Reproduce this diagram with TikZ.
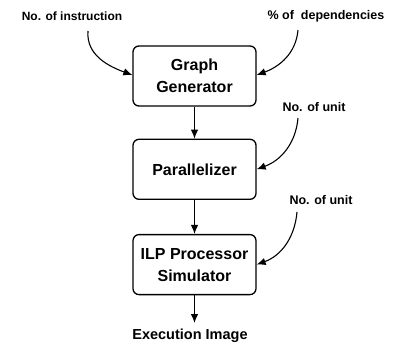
\documentclass[tikz,border=0pt]{standalone}
\usepackage{fontspec}
\setmainfont{Liberation Sans}
\usepackage{tikz}
\usetikzlibrary{positioning,shapes,arrows.meta}

\begin{document}
\begin{tikzpicture}[x=1pt,y=1pt,font=\bfseries]
        \useasboundingbox (0,0) rectangle (393,-345);
        \tikzset{blk/.style={draw,rounded corners=6pt,line width=1.3pt,minimum width=123pt,minimum height=60pt,
            align=center,font=\bfseries\fontsize{16}{22}\selectfont},
          lbl/.style={font=\bfseries\fontsize{12.5}{15}\selectfont},
          flow/.style={-{Latex[length=9pt,width=7.5pt]},line width=1.1pt}}
        \node[blk] (gen) at (194.5,-76) {Graph\\Generator};
        \node[blk,below=32pt of gen] (par) {Parallelizer};
        \node[blk,below=34pt of par] (sim) {ILP Processor\\Simulator};
        \node[lbl,font=\bfseries\fontsize{14.5}{17}\selectfont] (exec) at (190,-336) {Execution Image};
        \node[lbl,font=\bfseries\fontsize{12}{14}\selectfont] (ninstr) at (72,-16) {No. of instruction};
        \node[lbl] (ndep) at (326,-16) {\% of \ dependencies};
        \node[lbl] (unitA) at (314,-107) {No. of unit};
        \node[lbl] (unitB) at (321,-200) {No. of unit};
        \coordinate (c1) at (88,-31); \coordinate (c2) at (298,-30);
        \coordinate (c3) at (298,-118); \coordinate (c4) at (297,-212);
        \coordinate (e1) at (194.5,-323);
        \draw[flow] (gen) -- (par); \draw[flow] (par) -- (sim);
        \draw[flow] (sim) -- (e1);
        \draw[flow] (c1) to[out=-95,in=160] ([yshift=1pt]gen.west);
        \draw[flow] (c2) to[out=-95,in=20] ([yshift=1pt]gen.east);
        \draw[flow] (c3) to[out=-95,in=20] (par.east);
        \draw[flow] (c4) to[out=-95,in=20] (sim.east);
      \end{tikzpicture}
\end{document}
